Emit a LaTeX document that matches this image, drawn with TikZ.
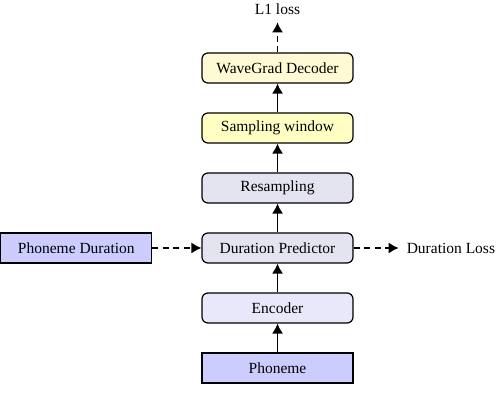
\documentclass[tikz,border=0pt]{standalone}
\usepackage{fontspec}
\setmainfont{Liberation Serif}
\usetikzlibrary{positioning,arrows.meta}
\definecolor{decfill}{RGB}{255,250,212}
\definecolor{winfill}{RGB}{255,255,196}
\definecolor{midfill}{RGB}{228,227,240}
\definecolor{encfill}{RGB}{232,232,250}
\definecolor{infill}{RGB}{204,204,255}

\begin{document}
\begin{tikzpicture}[x=1pt, y=1pt,
    node distance=28.8pt and 49pt,
    block/.style={draw, line width=1.2pt, rounded corners=6pt, minimum width=151pt, minimum height=30pt, inner sep=0pt, font=\fontsize{15.5}{18}\selectfont},
    inbox/.style={block, rounded corners=0pt, fill=infill},
    arr/.style={-{Latex[length=10pt,width=11pt]}, line width=1.3pt},
    darr/.style={arr, dash pattern=on 6pt off 4.5pt}
]
\useasboundingbox (0,0) rectangle (496,418);
\node[inbox] (phoneme) at (277.5,50) {Phoneme};
\node[block, fill=encfill, above=of phoneme] (encoder) {Encoder};
\node[block, fill=midfill, above=of encoder] (predictor) {Duration Predictor};
\node[block, fill=midfill, above=of predictor] (resampling) {Resampling};
\node[block, fill=winfill, above=of resampling] (window) {Sampling window};
\node[block, fill=decfill, above=of window] (decoder) {WaveGrad Decoder};
\node[inbox, left=of predictor] (phonemedur) {Phoneme Duration};
\node[right=45pt of predictor, inner xsep=8pt, font=\fontsize{15.5}{18}\selectfont] (durloss) {Duration Loss};
\node[above=30pt of decoder, inner ysep=8pt, font=\fontsize{15.5}{18}\selectfont] (lone) {L1 loss};
\draw[arr] (phoneme) -- (encoder);
\draw[arr] (encoder) -- (predictor);
\draw[arr] (predictor) -- (resampling);
\draw[arr] (resampling) -- (window);
\draw[arr] (window) -- (decoder);
\draw[darr] (decoder) -- (lone);
\draw[darr] (phonemedur) -- (predictor);
\draw[darr] (predictor) -- (durloss);
\end{tikzpicture}
\end{document}
